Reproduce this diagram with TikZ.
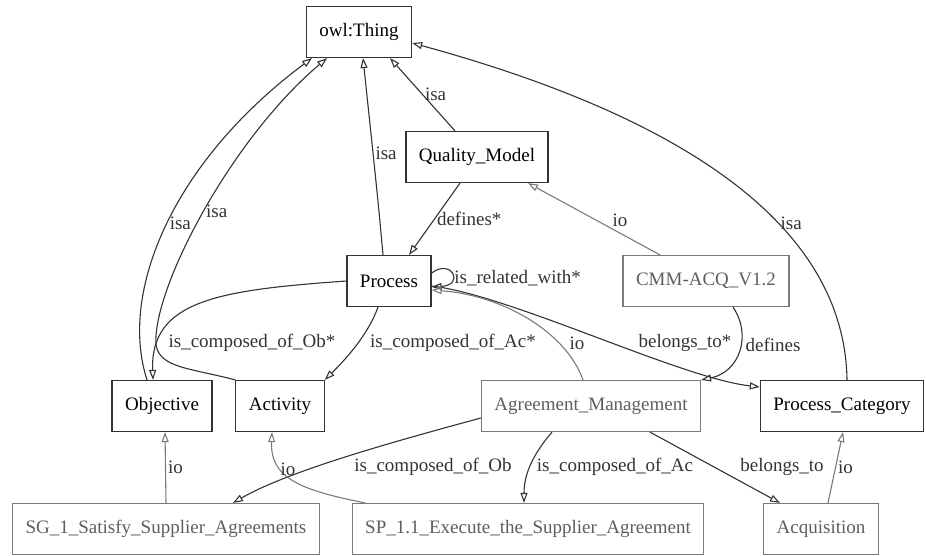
\documentclass[tikz,border=0pt]{standalone}
\usepackage{fontspec}
\setmainfont{Liberation Serif}
\usepackage{tikz}
\usetikzlibrary{arrows.meta}
\definecolor{edgegray}{HTML}{333333}
\definecolor{instgray}{HTML}{7A7A7A}
\definecolor{insttext}{HTML}{5E5E5E}
\tikzstyle{cls} = [rectangle, minimum height=51pt, inner xsep=13pt, text centered, draw=edgegray, line width=1.2pt, fill=white, font=\fontsize{19}{22}\selectfont]
\tikzstyle{inst} = [cls, draw=instgray, text=insttext]
\tikzstyle{arrow} = [line width=1.1pt, draw=edgegray, -{Triangle[open,length=10pt,width=7pt]}]
\tikzstyle{ioarrow} = [arrow, draw=instgray]
\tikzstyle{lbl} = [font=\fontsize{19}{22}\selectfont, text=edgegray, inner sep=2pt]

\begin{document}
\begin{tikzpicture}[x=1pt, y=-1pt]
\useasboundingbox (0,0) rectangle (926,555);

\node(Thing) [cls] at (359,32) {owl:Thing};
\node(QualityModel) [cls] at (477,157) {Quality\_Model};
\node(Process) [cls] at (389,281) {Process};
\node(CMM) [inst] at (706,281) {CMM-ACQ\_V1.2};
\node(Objective) [cls] at (162,406) {Objective};
\node(Activity) [cls] at (280,406) {Activity};
\node(AgreementMgmt) [inst] at (591,406) {Agreement\_Management};
\node(ProcessCat) [cls] at (842,406) {Process\_Category};
\node(SG) [inst] at (166,529) {SG\_1\_Satisfy\_Supplier\_Agreements};
\node(SP) [inst] at (528,529) {SP\_1.1\_Execute\_the\_Supplier\_Agreement};
\node(Acquisition) [inst] at (821,529) {Acquisition};

% isa
\draw [arrow] ([xshift=-15pt]Objective.north) .. controls (118,290) and (175,160) .. node[lbl, right]{isa} ([xshift=-47pt]Thing.south);
\draw [arrow] (Activity.north west) .. controls (190,368) and (160,368) .. (156,345) .. controls (152,290) and (230,140) .. node[lbl, right]{isa} ([xshift=-32pt]Thing.south);
\draw [arrow] ([xshift=-6pt]Process.north) .. controls (378,200) .. node[lbl, pos=0.7, right]{isa} ([xshift=4pt]Thing.south);
\draw [arrow] ([xshift=-22pt]QualityModel.north) -- node[lbl, right]{isa} ([xshift=31pt]Thing.south);
\draw [arrow] ([xshift=5pt]ProcessCat.north) .. controls (845,250) and (730,130) .. node[lbl, pos=0.42, right]{isa} ([yshift=-11pt]Thing.east);

% object properties
\draw [arrow] ([xshift=-17pt]QualityModel.south) -- node[lbl, right]{defines*} ([xshift=20pt]Process.north);
\draw [arrow] ([yshift=8pt]Process.east) .. controls (452,258) and (465,285) .. node[lbl, right, yshift=-5pt]{is\_related\_with*} ([yshift=-6pt]Process.east);
\draw [arrow] (Process.west) .. controls (220,290) and (150,300) .. ([xshift=-9pt]Objective.north) node[lbl] at (252,343) {is\_composed\_of\_Ob*};
\draw [arrow] ([xshift=-11pt]Process.south) .. controls (368,335) and (345,360) .. (Activity.north east) node[lbl] at (453,343) {is\_composed\_of\_Ac*};
\draw [arrow] ([yshift=-5pt]Process.east) .. controls (510,295) and (680,378) .. ([yshift=19pt]ProcessCat.west) node[lbl] at (685,343) {belongs\_to*};
\draw [arrow] ([xshift=27pt]CMM.south) .. controls (752,335) and (740,372) .. (AgreementMgmt.north east) node[lbl] at (773,345) {defines};
\draw [arrow] ([yshift=-12pt]AgreementMgmt.west) .. controls (400,440) and (290,470) .. ([xshift=67pt]SG.north) node[lbl] at (433,467) {is\_composed\_of\_Ob};
\draw [arrow] ([xshift=-39pt]AgreementMgmt.south) .. controls (535,452) and (524,472) .. ([xshift=-4pt]SP.north) node[lbl] at (615,467) {is\_composed\_of\_Ac};
\draw [arrow] ([xshift=59pt]AgreementMgmt.south) -- ([xshift=-41pt]Acquisition.north) node[lbl] at (782,467) {belongs\_to};

% io
\draw [ioarrow] ([xshift=-46pt]CMM.north) -- ([xshift=51pt]QualityModel.south) node[lbl] at (620,220) {io};
\draw [ioarrow] ([xshift=-8pt]AgreementMgmt.north) .. controls (565,330) and (500,295) .. ([yshift=-9pt]Process.east) node[lbl] at (577,343) {io};
\draw [ioarrow] (SG.north) -- node[lbl, right]{io} ([xshift=3pt]Objective.south);
\draw [ioarrow] ([xshift=-163pt]SP.north) .. controls (300,490) and (270,478) .. ([xshift=-8pt]Activity.south) node[lbl] at (288,469) {io};
\draw [ioarrow] ([xshift=7pt]Acquisition.north) -- node[lbl, right]{io} ([xshift=1pt]ProcessCat.south);
\end{tikzpicture}
\end{document}
